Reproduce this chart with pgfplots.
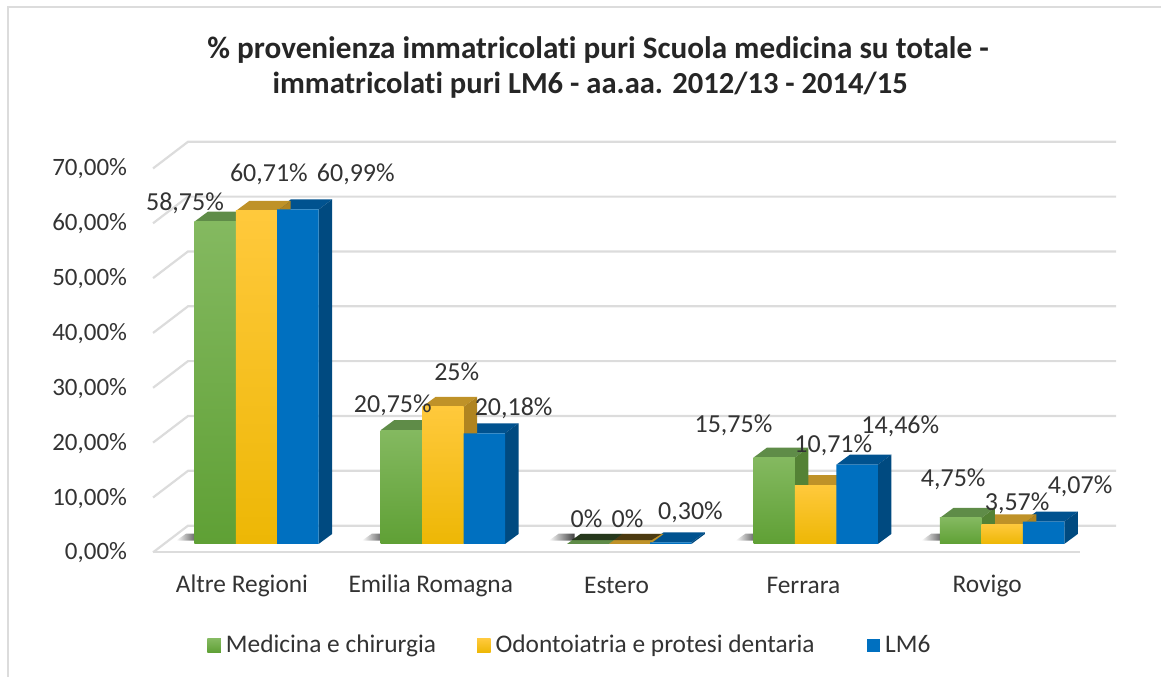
\documentclass[border=0pt]{standalone}
\usepackage{pgfplots}
\pgfplotsset{compat=1.18}
\usepackage{fontspec}
\setmainfont[Ligatures={NoCommon}]{Carlito}
\definecolor{gA}{HTML}{84B960}\definecolor{gB}{HTML}{70AD47}\definecolor{gC}{HTML}{5FA035}
\definecolor{yA}{HTML}{FFC93C}\definecolor{yB}{HTML}{FFC000}\definecolor{yC}{HTML}{EDB705}
\definecolor{bA}{HTML}{0070C0}
\definecolor{gT}{HTML}{5F8C48}\definecolor{gS}{HTML}{548235}
\definecolor{yT}{HTML}{BF9228}\definecolor{yS}{HTML}{B08420}
\definecolor{bT}{HTML}{00528F}\definecolor{bS}{HTML}{004A80}
\definecolor{grd}{HTML}{DCDCDC}\definecolor{txt}{HTML}{333333}
\newcommand\sidetop[8]{%
 \addplot[forget plot,fill=#7,draw=none] coordinates {(#1,#5)(#2,#5)(#3,#6)(#4,#6)} --cycle;
 \addplot[forget plot,fill=#8,draw=none] coordinates {(#2,0)(#2,#5)(#3,#6)(#3,1.82)} --cycle;}
\newcommand\shadow[3]{\addplot[forget plot,draw=none,left color=white,right color=black!75] coordinates {(#1,0.6)(#2,0.6)(#2,1.87)(#3,1.87)} --cycle;}
\newcommand\lab[3]{\node[font=\fontsize{13pt}{15pt}\selectfont,text=txt] at (axis cs:#1+1,{(544.3-#2-2)/5.49}) {#3};}
\pgfplotsset{
 serG/.style={ybar,bar width=20.75pt,bar shift=-20.75pt,draw=none,top color=gA,middle color=gB,bottom color=gC},
 serY/.style={ybar,bar width=20.75pt,bar shift=0pt,draw=none,top color=yA,middle color=yB,bottom color=yC},
 serB/.style={ybar,bar width=20.75pt,bar shift=20.75pt,draw=none,fill=bA}}
\begin{document}
\begin{tikzpicture}
\begin{axis}[
 scale only axis,width=581pt,height=338.5pt,
 xmin=0,xmax=1162,ymin=-24.171,ymax=99.144,
 clip=false,axis line style={draw=none},major tick length=0pt,
 ytick={0,10,20,30,40,50,60,70},
 yticklabels={0{,}00\%,10{,}00\%,20{,}00\%,30{,}00\%,40{,}00\%,50{,}00\%,60{,}00\%,70{,}00\%},
 yticklabel style={anchor=east,xshift=67pt,yshift=-4.5pt,font=\fontsize{12.5pt}{14pt}\selectfont,text=txt},
 xtick={242,431,617,804,988},
 xticklabels={Altre Regioni,Emilia Romagna,Estero,Ferrara,Rovigo},
 xticklabel style={anchor=center,yshift=45.5pt,font=\fontsize{12.7pt}{14pt}\selectfont,text=txt},
 legend columns=3,
 legend style={at={(axis cs:207,-18.55)},anchor=west,draw=none,fill=none,inner sep=0pt,
  font=\fontsize{12.7pt}{14pt}\selectfont,text=txt,
  /tikz/column 1/.style={column sep=0.5pt},/tikz/column 3/.style={column sep=0.5pt},/tikz/column 5/.style={column sep=0.5pt},
  /tikz/column 2/.style={column sep=18.5pt},/tikz/column 4/.style={column sep=24pt}},
 legend image code/.code={\path[#1,draw=none] (0pt,-3.4pt) rectangle (6.8pt,3.4pt);},
]
% frame
\draw[grd,line width=1pt] (axis cs:8,-24.171) -- (axis cs:8,97.9) -- (axis cs:1162,97.9);
% back wall grid
\addplot[forget plot,grd,line width=1.1pt] coordinates {(153,-1.53)(188,3.33)(1117,3.33)};
\addplot[forget plot,grd,line width=1.1pt] coordinates {(153,8.47)(188,13.33)(1117,13.33)};
\addplot[forget plot,grd,line width=1.1pt] coordinates {(153,18.47)(188,23.33)(1117,23.33)};
\addplot[forget plot,grd,line width=1.1pt] coordinates {(153,28.47)(188,33.33)(1117,33.33)};
\addplot[forget plot,grd,line width=1.1pt] coordinates {(153,38.47)(188,43.33)(1117,43.33)};
\addplot[forget plot,grd,line width=1.1pt] coordinates {(153,48.47)(188,53.33)(1117,53.33)};
\addplot[forget plot,grd,line width=1.1pt] coordinates {(153,58.47)(188,63.33)(1117,63.33)};
\addplot[forget plot,grd,line width=1.1pt] coordinates {(153,68.47)(188,73.33)(1117,73.33)};
\addplot[forget plot,grd,line width=1.1pt] coordinates {(153,-1.53)(1081,-1.53)};
% floor shadows
\shadow{176}{200}{186}
\shadow{362}{387}{372}
\shadow{549}{575}{559}
\shadow{736}{760}{746}
\shadow{922}{947}{932}
% depth faces: blue, yellow, green
\sidetop{277.3}{318.8}{332.3}{290.8}{60.99}{62.81}{bT}{bS}
\sidetop{463.9}{505.4}{518.9}{477.4}{20.18}{22.0}{bT}{bS}
\sidetop{650.5}{692}{705.5}{664}{0.30}{2.12}{bT}{bS}
\sidetop{837.1}{878.6}{892.1}{850.6}{14.46}{16.28}{bT}{bS}
\sidetop{1023.7}{1065.2}{1078.7}{1037.2}{4.07}{5.89}{bT}{bS}
\sidetop{235.8}{277.3}{290.8}{249.3}{60.71}{62.53}{yT}{yS}
\sidetop{422.4}{463.9}{477.4}{435.9}{25}{26.82}{yT}{yS}
\sidetop{609}{650.5}{664}{622.5}{0}{1.82}{yT}{yS}
\sidetop{795.6}{837.1}{850.6}{809.1}{10.71}{12.53}{yT}{yS}
\sidetop{982.2}{1023.7}{1037.2}{995.7}{3.57}{5.39}{yT}{yS}
\sidetop{194.3}{235.8}{249.3}{207.8}{58.75}{60.57}{gT}{gS}
\sidetop{380.9}{422.4}{435.9}{394.4}{20.75}{22.57}{gT}{gS}
\sidetop{567.5}{609}{622.5}{581}{0}{1.82}{gT}{gS}
\sidetop{754.1}{795.6}{809.1}{767.6}{15.75}{17.57}{gT}{gS}
\sidetop{940.7}{982.2}{995.7}{954.2}{4.75}{6.57}{gT}{gS}
% shadow falling across the flat Estero tops
\addplot[forget plot,draw=none,fill=black,fill opacity=0.6] coordinates {(572,0.7)(652,0.7)(662,1.82)(581,1.82)} --cycle;
% fronts: one plot per bar, so that each bar has its own gradient
\addplot[serG] coordinates {(256.55,58.75)};
\addplot[serG,forget plot] coordinates {(443.15,20.75)};
\addplot[serG,forget plot] coordinates {(629.75,0)};
\addplot[serG,forget plot] coordinates {(816.35,15.75)};
\addplot[serG,forget plot] coordinates {(1002.95,4.75)};
\addplot[serY] coordinates {(256.55,60.71)};
\addplot[serY,forget plot] coordinates {(443.15,25)};
\addplot[serY,forget plot] coordinates {(629.75,0)};
\addplot[serY,forget plot] coordinates {(816.35,10.71)};
\addplot[serY,forget plot] coordinates {(1002.95,3.57)};
\addplot[serB] coordinates {(256.55,60.99)(443.15,20.18)(629.75,0.30)(816.35,14.46)(1002.95,4.07)};
\legend{Medicina e chirurgia,Odontoiatria e protesi dentaria,LM6}
% data labels
\lab{184}{201}{58,75\%}
\lab{268}{172}{60,71\%}
\lab{355}{172}{60,99\%}
\lab{392}{404}{20,75\%}
\lab{456}{370}{25\%}
\lab{513}{407}{20,18\%}
\lab{586}{517}{0\%}
\lab{627}{517}{0\%}
\lab{690}{511}{0,30\%}
\lab{733}{424}{15,75\%}
\lab{833}{444}{10,71\%}
\lab{900}{425}{14,46\%}
\lab{953}{478}{4,75\%}
\lab{1017}{502}{3,57\%}
\lab{1080}{485}{4,07\%}
% title
\node[font=\bfseries\fontsize{15.6pt}{17.5pt}\selectfont,text=black!85] at (axis cs:598.5,{(544.3-50)/5.49}) {\% provenienza immatricolati puri Scuola medicina su totale -};
\node[font=\bfseries\fontsize{15.3pt}{17.5pt}\selectfont,text=black!85] at (axis cs:590.5,{(544.3-85.5)/5.49}) {immatricolati puri LM6 - aa.aa. 2012/13 - 2014/15};
\end{axis}
\end{tikzpicture}
\end{document}
